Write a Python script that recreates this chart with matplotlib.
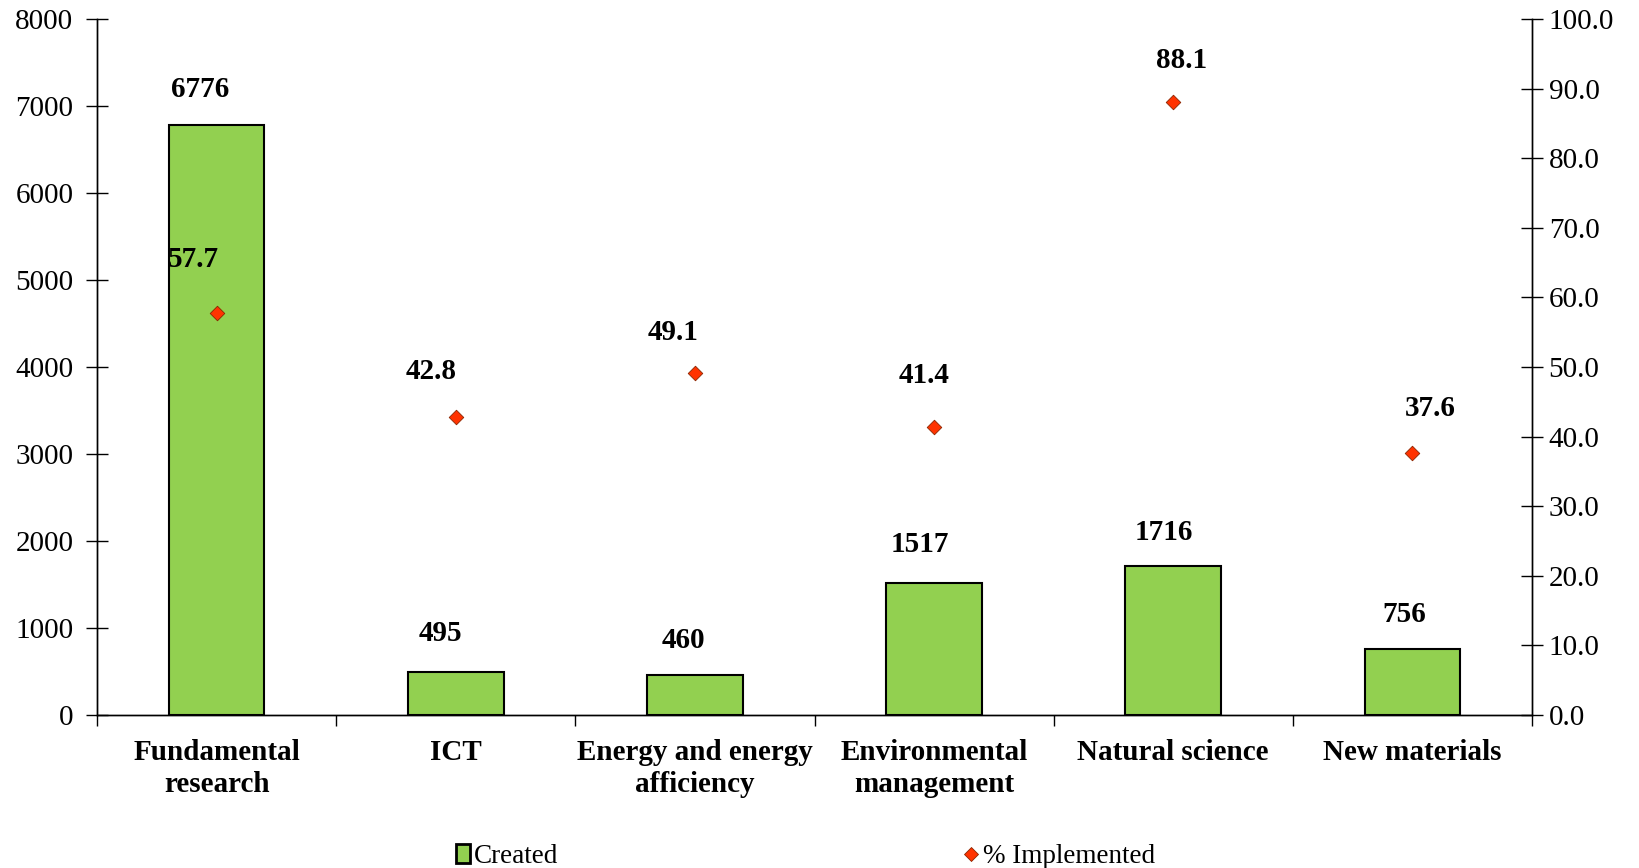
import matplotlib.pyplot as plt
import numpy as np
from matplotlib.lines import Line2D
from matplotlib.patches import Patch

plt.rcParams['font.family'] = ['Liberation Serif', 'DejaVu Serif']

categories = ["Fundamental\nresearch", "ICT", "Energy and energy\nafficiency",
              "Environmental\nmanagement", "Natural science", "New materials"]
created = [6776, 495, 460, 1517, 1716, 756]
implemented = [57.7, 42.8, 49.1, 41.4, 88.1, 37.6]

# label nudges (points) so the numbers sit where they read best
bar_label_dx = [-12, -11, -8, -10, -7, -6]
bar_label_dy = [26, 28, 25, 28, 24, 25]
pct_label_dx = [-17, -18, -16, -7, 6, 13]
pct_label_dy = [39, 33, 29, 37, 30, 32]

bar_color = '#92D050'
dot_color = '#FF3300'
fs = 21

fig = plt.figure(figsize=(16.39, 8.68), dpi=100)
ax = fig.add_axes([0.0592, 0.1763, 0.8755, 0.8018])
ax2 = ax.twinx()

x = np.arange(len(categories))
ax.bar(x, created, width=0.4, color=bar_color, edgecolor='black', linewidth=1.5, zorder=2)
ax2.scatter(x, implemented, marker='D', s=55, color=dot_color, edgecolor='#8B2500',
            linewidth=0.6, zorder=3)

for i, v in enumerate(created):
    ax.annotate(str(v), (x[i], v), xytext=(bar_label_dx[i], bar_label_dy[i]),
                textcoords='offset points', ha='center', va='center',
                fontsize=fs, fontweight='bold')
for i, v in enumerate(implemented):
    ax2.annotate(f"{v:.1f}", (x[i], v), xytext=(pct_label_dx[i], pct_label_dy[i]),
                 textcoords='offset points', ha='center', va='center',
                 fontsize=fs, fontweight='bold')

ax.set_xlim(-0.5, len(categories) - 0.5)
ax.set_ylim(0, 8000)
ax2.set_ylim(0, 100)
ax.set_yticks(range(0, 8001, 1000))
ax2.set_yticks(np.arange(0, 101, 10))
ax2.set_yticklabels([f"{t:.1f}" for t in np.arange(0, 101, 10)])

ax.set_xticks(x)
ax.set_xticklabels(categories, fontsize=fs, fontweight='bold', linespacing=1.28)
ax.set_xticks(np.arange(-0.5, len(categories), 1), minor=True)
ax.tick_params(axis='x', which='major', length=0, pad=17)
ax.tick_params(axis='x', which='minor', length=8, direction='out', width=1)
ax.tick_params(axis='y', direction='inout', length=16, width=1, labelsize=fs, pad=9)
ax2.tick_params(axis='y', direction='inout', length=16, width=1, labelsize=fs, pad=4)

for a in (ax, ax2):
    a.spines['top'].set_visible(False)
    a.spines['left'].set_linewidth(1)
    a.spines['right'].set_linewidth(1)
    a.spines['bottom'].set_linewidth(1)

h_bar = Patch(facecolor=bar_color, edgecolor='black', linewidth=2)
h_dot = Line2D([], [], marker='D', linestyle='none', markersize=7,
               markerfacecolor=dot_color, markeredgecolor='#8B2500', markeredgewidth=0.6)
fig.legend(handles=[h_bar], labels=['Created'], loc='center left',
           bbox_to_anchor=(0.27, 0.013), frameon=False, fontsize=19.5,
           handlelength=0.5, handleheight=0.7, handletextpad=0.15, borderpad=0)
fig.legend(handles=[h_dot], labels=['% Implemented'], loc='center left',
           bbox_to_anchor=(0.58, 0.013), frameon=False, fontsize=19.5,
           handlelength=0.5, handletextpad=0.2, borderpad=0)

fig.savefig('out.png', dpi=100)
